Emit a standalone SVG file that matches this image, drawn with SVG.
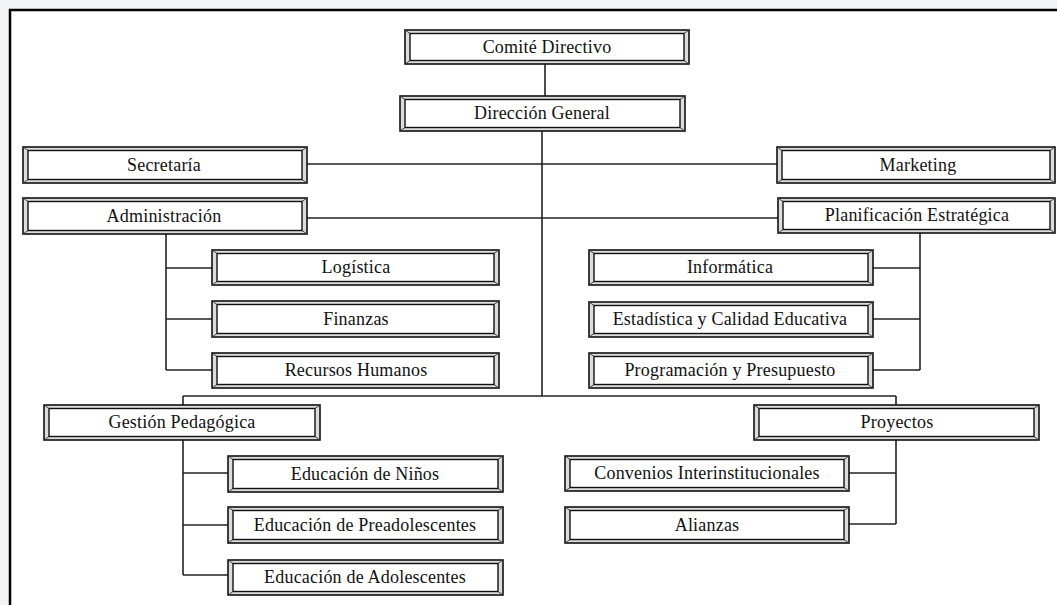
<svg xmlns="http://www.w3.org/2000/svg" width="1057" height="605" viewBox="0 0 1057 605">
  <style>
    .frame { fill: #ffffff; stroke: #000; stroke-width: 2.5; }
    .outer { fill: #dcdcdc; stroke: #111; stroke-width: 1.6; }
    .inner { fill: #ffffff; stroke: #111; stroke-width: 1.4; }
    .bevel { stroke: #333; stroke-width: 0.9; }
    .lbl { font-family: "Liberation Serif", "Times New Roman", serif; font-size: 18px; letter-spacing: 0.2px; fill: #111; text-anchor: middle; }
    .conn line { stroke: #222; stroke-width: 1.6; }
  </style>

  <!-- page background and chart frame -->
  <rect x="0" y="0" width="1057" height="605" fill="#f2f3f5"/>
  <rect class="frame" x="10" y="10" width="1060" height="610"/>

  <!-- connectors -->
  <g id="connectors" class="conn">
    <line x1="545" y1="64" x2="545" y2="96"/>
    <line x1="542" y1="131" x2="542" y2="396"/>
    <line x1="307" y1="164" x2="777" y2="164"/>
    <line x1="307" y1="218" x2="778" y2="218"/>
    <!-- Administración branch -->
    <line x1="166" y1="234" x2="166" y2="370"/>
    <line x1="166" y1="268" x2="212" y2="268"/>
    <line x1="166" y1="319" x2="212" y2="319"/>
    <line x1="166" y1="370" x2="212" y2="370"/>
    <!-- Planificación branch -->
    <line x1="920" y1="233" x2="920" y2="370"/>
    <line x1="873" y1="268" x2="920" y2="268"/>
    <line x1="873" y1="319" x2="920" y2="319"/>
    <line x1="873" y1="370" x2="920" y2="370"/>
    <!-- lower bus -->
    <line x1="183" y1="396" x2="896" y2="396"/>
    <line x1="183" y1="396" x2="183" y2="405"/>
    <line x1="896" y1="396" x2="896" y2="405"/>
    <!-- Gestión Pedagógica branch -->
    <line x1="183" y1="440" x2="183" y2="575"/>
    <line x1="183" y1="473" x2="228" y2="473"/>
    <line x1="183" y1="525" x2="228" y2="525"/>
    <line x1="183" y1="575" x2="228" y2="575"/>
    <!-- Proyectos branch -->
    <line x1="896" y1="440" x2="896" y2="524"/>
    <line x1="849" y1="473" x2="896" y2="473"/>
    <line x1="849" y1="524" x2="896" y2="524"/>
  </g>

  <!-- nodes: outer bevel frame, inner panel, corner bevel lines, label -->
  <g id="comite-directivo">
    <rect class="outer" x="405" y="30" width="284" height="34"/>
    <rect class="inner" x="410" y="33.5" width="274" height="27"/>
    <path class="bevel" d="M405 30 L410 33.5 M689 30 L684 33.5 M405 64 L410 60.5 M689 64 L684 60.5"/>
    <text class="lbl" x="547" y="53">Comité Directivo</text>
  </g>
  <g id="direccion-general">
    <rect class="outer" x="400" y="96" width="285" height="35"/>
    <rect class="inner" x="405" y="99.5" width="275" height="28"/>
    <path class="bevel" d="M400 96 L405 99.5 M685 96 L680 99.5 M400 131 L405 127.5 M685 131 L680 127.5"/>
    <text class="lbl" x="542" y="119">Dirección General</text>
  </g>
  <g id="secretaria">
    <rect class="outer" x="23" y="147" width="284" height="36"/>
    <rect class="inner" x="28" y="150.5" width="274" height="29"/>
    <path class="bevel" d="M23 147 L28 150.5 M307 147 L302 150.5 M23 183 L28 179.5 M307 183 L302 179.5"/>
    <text class="lbl" x="164" y="171">Secretaría</text>
  </g>
  <g id="marketing">
    <rect class="outer" x="777" y="147" width="278" height="36"/>
    <rect class="inner" x="782" y="150.5" width="268" height="29"/>
    <path class="bevel" d="M777 147 L782 150.5 M1055 147 L1050 150.5 M777 183 L782 179.5 M1055 183 L1050 179.5"/>
    <text class="lbl" x="918" y="171">Marketing</text>
  </g>
  <g id="administracion">
    <rect class="outer" x="23" y="198" width="284" height="36"/>
    <rect class="inner" x="28" y="201.5" width="274" height="29"/>
    <path class="bevel" d="M23 198 L28 201.5 M307 198 L302 201.5 M23 234 L28 230.5 M307 234 L302 230.5"/>
    <text class="lbl" x="164" y="222">Administración</text>
  </g>
  <g id="planificacion-estrategica">
    <rect class="outer" x="778" y="198" width="277" height="35"/>
    <rect class="inner" x="783" y="201.5" width="267" height="28"/>
    <path class="bevel" d="M778 198 L783 201.5 M1055 198 L1050 201.5 M778 233 L783 229.5 M1055 233 L1050 229.5"/>
    <text class="lbl" x="917" y="221">Planificación Estratégica</text>
  </g>
  <g id="logistica">
    <rect class="outer" x="212" y="250" width="287" height="35"/>
    <rect class="inner" x="217" y="253.5" width="277" height="28"/>
    <path class="bevel" d="M212 250 L217 253.5 M499 250 L494 253.5 M212 285 L217 281.5 M499 285 L494 281.5"/>
    <text class="lbl" x="356" y="273">Logística</text>
  </g>
  <g id="finanzas">
    <rect class="outer" x="212" y="301" width="287" height="36"/>
    <rect class="inner" x="217" y="304.5" width="277" height="29"/>
    <path class="bevel" d="M212 301 L217 304.5 M499 301 L494 304.5 M212 337 L217 333.5 M499 337 L494 333.5"/>
    <text class="lbl" x="356" y="325">Finanzas</text>
  </g>
  <g id="recursos-humanos">
    <rect class="outer" x="212" y="353" width="287" height="35"/>
    <rect class="inner" x="217" y="356.5" width="277" height="28"/>
    <path class="bevel" d="M212 353 L217 356.5 M499 353 L494 356.5 M212 388 L217 384.5 M499 388 L494 384.5"/>
    <text class="lbl" x="356" y="376">Recursos Humanos</text>
  </g>
  <g id="informatica">
    <rect class="outer" x="589" y="250" width="284" height="35"/>
    <rect class="inner" x="594" y="253.5" width="274" height="28"/>
    <path class="bevel" d="M589 250 L594 253.5 M873 250 L868 253.5 M589 285 L594 281.5 M873 285 L868 281.5"/>
    <text class="lbl" x="730" y="273">Informática</text>
  </g>
  <g id="estadistica-calidad">
    <rect class="outer" x="589" y="302" width="284" height="35"/>
    <rect class="inner" x="594" y="305.5" width="274" height="28"/>
    <path class="bevel" d="M589 302 L594 305.5 M873 302 L868 305.5 M589 337 L594 333.5 M873 337 L868 333.5"/>
    <text class="lbl" x="730" y="325">Estadística y Calidad Educativa</text>
  </g>
  <g id="programacion-presupuesto">
    <rect class="outer" x="589" y="353" width="284" height="35"/>
    <rect class="inner" x="594" y="356.5" width="274" height="28"/>
    <path class="bevel" d="M589 353 L594 356.5 M873 353 L868 356.5 M589 388 L594 384.5 M873 388 L868 384.5"/>
    <text class="lbl" x="730" y="376">Programación y Presupuesto</text>
  </g>
  <g id="gestion-pedagogica">
    <rect class="outer" x="44" y="405" width="276" height="35"/>
    <rect class="inner" x="49" y="408.5" width="266" height="28"/>
    <path class="bevel" d="M44 405 L49 408.5 M320 405 L315 408.5 M44 440 L49 436.5 M320 440 L315 436.5"/>
    <text class="lbl" x="182" y="428">Gestión Pedagógica</text>
  </g>
  <g id="proyectos">
    <rect class="outer" x="754" y="405" width="285" height="35"/>
    <rect class="inner" x="759" y="408.5" width="275" height="28"/>
    <path class="bevel" d="M754 405 L759 408.5 M1039 405 L1034 408.5 M754 440 L759 436.5 M1039 440 L1034 436.5"/>
    <text class="lbl" x="897" y="428">Proyectos</text>
  </g>
  <g id="educacion-ninos">
    <rect class="outer" x="228" y="456" width="275" height="36"/>
    <rect class="inner" x="233" y="459.5" width="265" height="29"/>
    <path class="bevel" d="M228 456 L233 459.5 M503 456 L498 459.5 M228 492 L233 488.5 M503 492 L498 488.5"/>
    <text class="lbl" x="365" y="480">Educación de Niños</text>
  </g>
  <g id="educacion-preadolescentes">
    <rect class="outer" x="228" y="507" width="275" height="36"/>
    <rect class="inner" x="233" y="510.5" width="265" height="29"/>
    <path class="bevel" d="M228 507 L233 510.5 M503 507 L498 510.5 M228 543 L233 539.5 M503 543 L498 539.5"/>
    <text class="lbl" x="365" y="531">Educación de Preadolescentes</text>
  </g>
  <g id="educacion-adolescentes">
    <rect class="outer" x="228" y="560" width="275" height="35"/>
    <rect class="inner" x="233" y="563.5" width="265" height="28"/>
    <path class="bevel" d="M228 560 L233 563.5 M503 560 L498 563.5 M228 595 L233 591.5 M503 595 L498 591.5"/>
    <text class="lbl" x="365" y="583">Educación de Adolescentes</text>
  </g>
  <g id="convenios-interinstitucionales">
    <rect class="outer" x="565" y="456" width="284" height="35"/>
    <rect class="inner" x="570" y="459.5" width="274" height="28"/>
    <path class="bevel" d="M565 456 L570 459.5 M849 456 L844 459.5 M565 491 L570 487.5 M849 491 L844 487.5"/>
    <text class="lbl" x="707" y="479">Convenios Interinstitucionales</text>
  </g>
  <g id="alianzas">
    <rect class="outer" x="565" y="507" width="284" height="36"/>
    <rect class="inner" x="570" y="510.5" width="274" height="29"/>
    <path class="bevel" d="M565 507 L570 510.5 M849 507 L844 510.5 M565 543 L570 539.5 M849 543 L844 539.5"/>
    <text class="lbl" x="707" y="531">Alianzas</text>
  </g>
</svg>
